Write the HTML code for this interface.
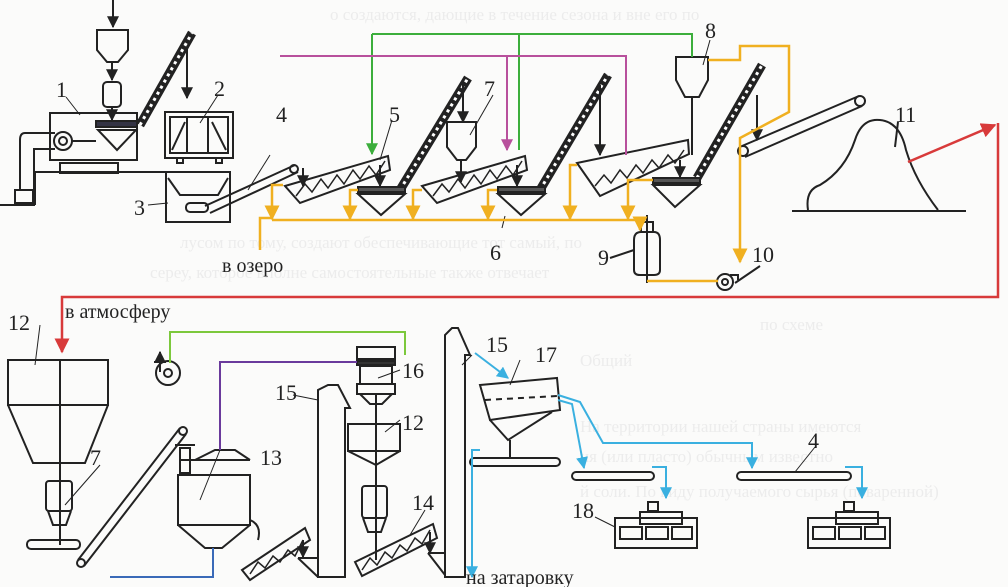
<!DOCTYPE html>
<html><head><meta charset="utf-8"><style>
html,body{margin:0;padding:0;background:#fbfbfa;}
svg{display:block;}
text{font-family:"Liberation Serif","DejaVu Serif",serif;fill:#222;}
.g text{fill:#ececec;font-size:17px;}
</style></head><body>
<svg width="1008" height="587" viewBox="0 0 1008 587" xmlns="http://www.w3.org/2000/svg">
<defs>
<marker id="ak" viewBox="0 0 10 10" refX="9" refY="5" markerWidth="6" markerHeight="6" orient="auto"><path d="M0,0 L10,5 L0,10z" fill="#222"/></marker>
<marker id="ao" viewBox="0 0 10 10" refX="9" refY="5" markerWidth="6" markerHeight="6" orient="auto"><path d="M0,0 L10,5 L0,10z" fill="#f0b020"/></marker>
<marker id="ag" viewBox="0 0 10 10" refX="9" refY="5" markerWidth="6" markerHeight="6" orient="auto"><path d="M0,0 L10,5 L0,10z" fill="#3cae3c"/></marker>
<marker id="ap" viewBox="0 0 10 10" refX="9" refY="5" markerWidth="6" markerHeight="6" orient="auto"><path d="M0,0 L10,5 L0,10z" fill="#b8509c"/></marker>
<marker id="ar" viewBox="0 0 10 10" refX="9" refY="5" markerWidth="6" markerHeight="6" orient="auto"><path d="M0,0 L10,5 L0,10z" fill="#d83a3a"/></marker>
<marker id="ab" viewBox="0 0 10 10" refX="9" refY="5" markerWidth="6" markerHeight="6" orient="auto"><path d="M0,0 L10,5 L0,10z" fill="#3ab0e0"/></marker>
</defs>
<!-- ghost text -->
<g class="g">
<text x="330" y="20">о создаются, дающие в течение сезона и вне его по</text>
<text x="180" y="248">лусом по тому, создают обеспечивающие тот самый, по</text>
<text x="150" y="278">сереу, которое вполне самостоятельные также отвечает</text>
<text x="760" y="330">по схеме</text>
<text x="580" y="366">Общий</text>
<text x="580" y="432">На территории нашей страны имеются</text>
<text x="580" y="462">ия (или пласто) обычным известно</text>
<text x="580" y="497">й соли. По виду получаемого сырья (поваренной)</text>
</g>
<g fill="none" stroke="#222" stroke-width="2">
<line x1="113" y1="0" x2="113" y2="27" marker-end="url(#ak)"/>
<path d="M97,30 H128 V50 L118,62 H107 L97,50Z" fill="#fbfbfa"/>
<line x1="112" y1="62" x2="112" y2="80" marker-end="url(#ak)"/>
<rect x="103" y="82" width="18" height="25" rx="4"/>
<line x1="112" y1="107" x2="112" y2="120" marker-end="url(#ak)"/>
<rect x="50" y="113" width="87" height="47"/>
<rect x="96" y="121" width="41" height="6" fill="#334"/>
<path d="M98,130 H136 L117,150Z"/>
<circle cx="63" cy="141" r="9"/><circle cx="63" cy="141" r="4"/>
<line x1="72" y1="141" x2="96" y2="141"/>
<path d="M55,133 H25 Q20,133 20,140 V190 M55,149 H34 V190" />
<rect x="15" y="190" width="18" height="13"/>
<line x1="0" y1="205" x2="35" y2="205"/>
<line x1="35" y1="205" x2="35" y2="172"/>
<line x1="35" y1="172" x2="166" y2="172"/>
<rect x="60" y="163" width="58" height="10"/>
<rect x="165" y="112" width="68" height="46"/>
<rect x="170" y="117" width="58" height="36"/>
<line x1="187" y1="117" x2="187" y2="153"/><line x1="208" y1="117" x2="208" y2="153"/>
<path d="M172,150 L185,122 M212,122 L226,150"/>
<rect x="177" y="158" width="6" height="5"/><rect x="216" y="158" width="6" height="5"/>
<line x1="187" y1="45" x2="187" y2="98" marker-end="url(#ak)"/>
<rect x="166" y="172" width="64" height="50"/>
<path d="M168,178 L180,195 H218 L228,178"/>
<rect x="186" y="203" width="22" height="9" rx="4"/>
<path d="M205,206 L295,165 M210,213 L298,172"/>
<circle cx="294" cy="169" r="4"/>
<line x1="303" y1="168" x2="303" y2="186" marker-end="url(#ak)"/>
<line x1="248" y1="190" x2="270" y2="155" stroke-width="1"/>
</g>
<g>
<line x1="140" y1="125" x2="192" y2="33" stroke="#222" stroke-width="9"/>
<line x1="140" y1="125" x2="192" y2="33" stroke="#fff" stroke-width="3" stroke-dasharray="3 4"/>
<line x1="400" y1="190" x2="468" y2="78" stroke="#222" stroke-width="9"/>
<line x1="400" y1="190" x2="468" y2="78" stroke="#fff" stroke-width="3" stroke-dasharray="3 4"/>
<line x1="540" y1="190" x2="608" y2="75" stroke="#222" stroke-width="9"/>
<line x1="540" y1="190" x2="608" y2="75" stroke="#fff" stroke-width="3" stroke-dasharray="3 4"/>
<line x1="697" y1="178" x2="762" y2="65" stroke="#222" stroke-width="9"/>
<line x1="697" y1="178" x2="762" y2="65" stroke="#fff" stroke-width="3" stroke-dasharray="3 4"/>
</g>
<g fill="none" stroke="#222" stroke-width="2">
<path d="M463,80 V122" marker-end="url(#ak)"/>
<path d="M600,85 V155" marker-end="url(#ak)"/>
<path d="M757,95 V140" marker-end="url(#ak)"/>
<path d="M285,186 L388,156 L390,170 L300,203Z"/>
<polyline points="296,196 305,184 312,192 321,179 328,188 337,175 344,184 353,170 360,179 369,166 376,175 385,161" stroke-width="1.5"/>
<line x1="380" y1="165" x2="380" y2="186" marker-end="url(#ak)"/>
<rect x="358" y="187" width="47" height="5" fill="#555"/>
<path d="M358,194 H405 L381,215Z"/>
<path d="M447,122 H476 V147 L466,160 H457 L447,147Z"/>
<line x1="461" y1="160" x2="461" y2="182" marker-end="url(#ak)"/>
<path d="M422,186 L525,156 L527,170 L437,203Z"/>
<polyline points="433,196 442,184 449,192 458,179 465,188 474,175 481,184 490,170 497,179 506,166 513,175 522,161" stroke-width="1.5"/>
<line x1="517" y1="165" x2="517" y2="186" marker-end="url(#ak)"/>
<rect x="498" y="187" width="47" height="5" fill="#555"/>
<path d="M498,194 H545 L521,215Z"/>
<path d="M577,163 L688,140 L689,154 L600,196Z"/>
<polyline points="595,186 604,175 611,183 620,170 627,178 636,165 643,173 652,160 659,168 668,155 675,163 684,150" stroke-width="1.5"/>
<path d="M676,57 H708 V80 L699,97 H685 L676,80Z"/>
<line x1="692" y1="97" x2="692" y2="155"/>
<line x1="680" y1="160" x2="680" y2="177" marker-end="url(#ak)"/>
<rect x="653" y="178" width="47" height="5" fill="#555"/>
<path d="M653,185 H700 L675,207Z"/>
<path d="M742,146 L859,96 M745,157 L862,106"/>
<circle cx="743" cy="151" r="5"/><circle cx="860" cy="101" r="5"/>
<line x1="792" y1="211" x2="966" y2="211"/>
<path d="M808,210 Q805,190 820,185 Q845,170 855,140 Q862,118 880,120 Q900,122 906,150 Q915,180 938,210"/>
<line x1="898" y1="122" x2="895" y2="147"/>
<path d="M634,240 Q634,232 641,232 H654 Q660,232 660,240 V270 Q660,275 654,275 H640 Q634,275 634,270Z"/>
<rect x="641" y="222" width="12" height="10"/>
<line x1="647" y1="215" x2="647" y2="283"/>
<line x1="610" y1="258" x2="634" y2="250"/>
<circle cx="725" cy="282" r="8"/><circle cx="725" cy="282" r="3"/>
<path d="M730,275 H738 V280"/>
<line x1="735" y1="283" x2="760" y2="266"/>
<line x1="66" y1="97" x2="80" y2="115" stroke-width="1"/>
<line x1="218" y1="95" x2="200" y2="123" stroke-width="1"/>
<line x1="148" y1="205" x2="168" y2="203" stroke-width="1"/>
<line x1="392" y1="120" x2="380" y2="160" stroke-width="1"/>
<line x1="493" y1="95" x2="470" y2="135" stroke-width="1"/>
<line x1="502" y1="228" x2="505" y2="216" stroke-width="1"/>
<line x1="710" y1="40" x2="703" y2="65" stroke-width="1"/>
</g>
<g fill="none" stroke="#f0b020" stroke-width="2.5">
<path d="M272,220 H640"/>
<path d="M283,185 H272 V219" marker-end="url(#ao)"/>
<path d="M358,190 H350 V219" marker-end="url(#ao)"/>
<path d="M422,190 H413 V219" marker-end="url(#ao)"/>
<path d="M497,190 H488 V219" marker-end="url(#ao)"/>
<path d="M577,165 H570 V219" marker-end="url(#ao)"/>
<path d="M653,180 H628 V219" marker-end="url(#ao)"/>
<path d="M640,220 V230" marker-end="url(#ao)"/>
<path d="M272,218 H260 V250"/>
<path d="M708,60 H740 V46 H789 V112 L740,138 V262" marker-end="url(#ao)"/>
<path d="M647,281 H718"/>
</g>
<g fill="none" stroke="#3cae3c" stroke-width="2">
<path d="M372,34 H692 V57"/>
<path d="M372,34 V154" marker-end="url(#ag)"/>
<path d="M519,34 V150"/>
</g>
<g fill="none" stroke="#b8509c" stroke-width="2">
<path d="M280,56 H626 V155"/>
<path d="M507,56 V150" marker-end="url(#ap)"/>
</g>
<g fill="none" stroke="#d83a3a" stroke-width="2.5">
<path d="M908,162 L995,125" marker-end="url(#ar)"/>
<path d="M998,123 V297 H62 V352" marker-end="url(#ar)"/>
</g>
<g fill="none" stroke="#222" stroke-width="2">
<rect x="8" y="360" width="100" height="45"/>
<path d="M8,405 L33,463 H85 L108,405"/>
<line x1="60" y1="360" x2="60" y2="545"/>
<rect x="46" y="481" width="26" height="30" rx="3"/>
<path d="M48,511 L53,525 H66 L71,511"/>
<rect x="27" y="540" width="53" height="9" rx="4"/>
<path d="M78,560 L180,428 M84,566 L186,434"/>
<circle cx="81" cy="563" r="4"/><circle cx="183" cy="431" r="4"/>
<line x1="40" y1="325" x2="35" y2="365" stroke-width="1"/>
<line x1="100" y1="465" x2="65" y2="505" stroke-width="1"/>
<circle cx="168" cy="373" r="12"/><circle cx="168" cy="373" r="4"/>
<line x1="160" y1="372" x2="160" y2="352" marker-end="url(#ak)"/>
<line x1="154" y1="362" x2="166" y2="362"/>
<path d="M195,460 L215,450 H235 L250,460"/>
<rect x="178" y="475" width="72" height="50"/>
<path d="M180,460 H250 M178,525 L205,548 H222 L250,525"/>
<rect x="180" y="448" width="10" height="25"/>
<line x1="175" y1="445" x2="195" y2="445"/>
<path d="M250,520 Q262,525 258,540"/>
<line x1="220" y1="450" x2="200" y2="500" stroke-width="1"/>
<path d="M242,570 L305,528 L310,540 L250,580Z"/>
<polyline points="250,574 258,562 265,568 273,556 280,562 288,550 295,556 303,540" stroke-width="1.5"/>
<line x1="303" y1="540" x2="303" y2="557" marker-end="url(#ak)"/>
<path d="M298,558 H318 M298,558 L318,577"/>
<path d="M318,577 V390 L328,385 H338 L350,408 H345 V577Z"/>
<line x1="293" y1="395" x2="318" y2="400" stroke-width="1"/>
<rect x="357" y="347" width="38" height="12"/>
<rect x="357" y="361" width="38" height="4" fill="#333"/>
<rect x="360" y="366" width="32" height="18"/>
<rect x="357" y="384" width="38" height="10"/>
<path d="M360,394 L370,404 H382 L392,394"/>
<line x1="376" y1="394" x2="376" y2="560"/>
<rect x="348" y="424" width="52" height="27"/>
<path d="M348,451 L376,465 L400,451"/>
<rect x="362" y="486" width="25" height="32" rx="3"/>
<path d="M363,518 L368,532 H381 L386,518"/>
<line x1="400" y1="370" x2="378" y2="378" stroke-width="1"/>
<line x1="400" y1="420" x2="385" y2="432" stroke-width="1"/>
<path d="M355,562 L433,524 L437,538 L362,576Z"/>
<polyline points="362,570 370,558 377,565 385,552 392,558 400,545 407,551 415,538 422,544 430,530" stroke-width="1.5"/>
<line x1="430" y1="532" x2="430" y2="553" marker-end="url(#ak)"/>
<path d="M428,553 H445 M428,553 L445,575"/>
<line x1="425" y1="510" x2="410" y2="535" stroke-width="1"/>
<path d="M445,577 V335 L452,328 H458 L470,355 H465 V577Z"/>
<line x1="472" y1="355" x2="462" y2="365" stroke-width="1"/>
<path d="M480,385 L557,378 L560,410 L490,420Z"/>
<line x1="485" y1="400" x2="557" y2="396" stroke-dasharray="6 5"/>
<path d="M490,420 L508,440 L552,412"/>
<line x1="510" y1="440" x2="510" y2="458"/>
<rect x="470" y="458" width="90" height="8" rx="4"/>
<line x1="520" y1="360" x2="510" y2="385" stroke-width="1"/>
<rect x="572" y="472" width="82" height="8" rx="4"/>
<rect x="737" y="472" width="114" height="8" rx="4"/>
<line x1="795" y1="472" x2="815" y2="447" stroke-width="1"/>
<rect x="648" y="502" width="10" height="9"/>
<rect x="640" y="512" width="42" height="12"/>
<rect x="615" y="518" width="82" height="30"/>
<rect x="620" y="527" width="22" height="12"/><rect x="646" y="527" width="22" height="12"/><rect x="672" y="527" width="20" height="12"/>
<rect x="844" y="502" width="10" height="9"/>
<rect x="836" y="512" width="42" height="12"/>
<rect x="808" y="518" width="82" height="30"/>
<rect x="813" y="527" width="22" height="12"/><rect x="839" y="527" width="22" height="12"/><rect x="865" y="527" width="20" height="12"/>
<line x1="595" y1="517" x2="615" y2="527" stroke-width="1"/>
</g>
<g fill="none" stroke-width="2">
<path d="M170,363 V332 H405 V355" stroke="#7cc83c"/>
<path d="M357,362 H220 V450" stroke="#6a3a9c"/>
<path d="M213,548 V577 H110" stroke="#3a6ab8"/>
<path d="M475,353 L508,378" stroke="#3ab0e0" marker-end="url(#ab)"/>
<path d="M480,450 H472 V577" stroke="#3ab0e0" marker-end="url(#ab)"/>
<path d="M558,400 L572,404 L584,468" stroke="#3ab0e0" marker-end="url(#ab)"/>
<path d="M558,395 L580,402 L603,443 H752 V468" stroke="#3ab0e0" marker-end="url(#ab)"/>
<path d="M652,467 H666 V498" stroke="#3ab0e0" marker-end="url(#ab)"/>
<path d="M845,467 H862 V498" stroke="#3ab0e0" marker-end="url(#ab)"/>
</g>
<g font-size="22">
<text x="56" y="97">1</text><text x="214" y="96">2</text><text x="134" y="215">3</text>
<text x="276" y="122">4</text><text x="389" y="122">5</text><text x="490" y="260">6</text>
<text x="484" y="96">7</text><text x="705" y="38">8</text><text x="598" y="265">9</text>
<text x="752" y="262">10</text><text x="895" y="122">11</text>
<text x="8" y="330">12</text><text x="90" y="465">7</text><text x="402" y="378">16</text>
<text x="275" y="400">15</text><text x="402" y="430">12</text><text x="260" y="465">13</text>
<text x="412" y="510">14</text><text x="486" y="352">15</text><text x="535" y="362">17</text>
<text x="808" y="448">4</text><text x="572" y="518">18</text>
</g>
<g font-size="20">
<text x="222" y="272">в озеро</text>
<text x="65" y="318">в атмосферу</text>
<text x="466" y="584">на затаровку</text>
</g>
</svg>
</body></html>
